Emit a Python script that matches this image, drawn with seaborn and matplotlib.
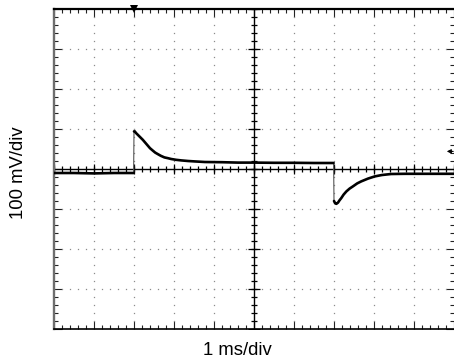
import numpy as np
import pandas as pd
import matplotlib
matplotlib.use("Agg")
import matplotlib.pyplot as plt
from matplotlib.ticker import MultipleLocator
import seaborn as sns

# Scope capture: 1 ms/div horizontally, 100 mV/div vertically
pre_time_ms = [0.0, 0.5, 1.0, 1.5, 1.99]
pre_mv = [-10, -10, -11, -10, -10]

pulse_time_ms = [2.0, 2.02, 2.05, 2.09, 2.15, 2.22, 2.28, 2.34, 2.40, 2.47,
                 2.53, 2.59, 2.67, 2.76, 2.85, 2.93, 3.05, 3.18, 3.35, 3.51,
                 3.77, 4.2, 4.6, 5.0, 5.5, 6.0, 6.5, 6.99]
pulse_mv = [94, 94, 90, 86, 80, 73, 66, 59, 52, 46,
            41, 37.5, 33, 29, 27, 25, 23, 21.5, 20, 19,
            17.5, 17, 16, 16, 15.5, 15.5, 15, 15]

post_time_ms = [7.0, 7.03, 7.06, 7.1, 7.14, 7.18, 7.24, 7.31, 7.39, 7.48,
                7.58, 7.68, 7.85, 8.02, 8.2, 8.43, 8.77, 9.2, 9.6, 10.0]
post_mv = [-80, -86, -87, -84, -78, -73, -64, -56, -49, -43,
           -36, -31, -24, -18.5, -15, -12.5, -12, -12, -12, -12]

trigger_time_ms = 2.0
ground_marker_mv = 44

x_divs = 10
y_divs = 8
ms_per_div = 1.0
mv_per_div = 100

sns.set_theme(style="white")
plt.rcParams["font.family"] = ["Liberation Sans", "DejaVu Sans"]

fig = plt.figure(figsize=(4.54, 3.6), dpi=100)
ax = fig.add_axes([54 / 454, 31 / 360, 400 / 454, 320 / 360])

x_max = x_divs * ms_per_div
y_half = y_divs / 2 * mv_per_div
ax.set_xlim(0, x_max)
ax.set_ylim(-y_half, y_half)

# dotted graticule: dots at every minor step along each major line
minor_x = np.arange(0, x_max + 1e-9, ms_per_div / 5)
minor_y = np.arange(-y_half, y_half + 1e-9, mv_per_div / 5)
major_x = [v for v in np.arange(ms_per_div, x_max, ms_per_div) if abs(v - x_max / 2) > 1e-9]
major_y = [v for v in np.arange(-y_half + mv_per_div, y_half, mv_per_div) if abs(v) > 1e-9]
for gx in major_x:
    ax.plot(np.full_like(minor_y, gx), minor_y, ls="none", marker="s",
            ms=0.9, mew=0, color="#8c8c8c", zorder=1)
for gy in major_y:
    ax.plot(minor_x, np.full_like(minor_x, gy), ls="none", marker="s",
            ms=0.9, mew=0, color="#8c8c8c", zorder=1)

# center cross with its own tick marks
cx = x_max / 2
ax.axhline(0, color="black", lw=1.0, zorder=2)
ax.axvline(cx, color="black", lw=1.0, zorder=2)
ax.plot(minor_x, np.zeros_like(minor_x), ls="none", marker="|", ms=5,
        mew=0.9, color="black", zorder=2)
major_xc = np.arange(0, x_max + 1e-9, ms_per_div)
ax.plot(major_xc, np.zeros_like(major_xc), ls="none", marker="|", ms=6.5,
        mew=0.9, color="black", zorder=2)
ax.plot(np.full_like(minor_y, cx), minor_y, ls="none", marker="_", ms=5,
        mew=0.9, color="black", zorder=2)
major_yc = np.arange(-y_half, y_half + 1e-9, mv_per_div)
ax.plot(np.full_like(major_yc, cx), major_yc, ls="none", marker="_", ms=8.5,
        mew=0.9, color="black", zorder=2)

# edge ticks
ax.xaxis.set_major_locator(MultipleLocator(ms_per_div))
ax.xaxis.set_minor_locator(MultipleLocator(ms_per_div / 5))
ax.yaxis.set_major_locator(MultipleLocator(mv_per_div))
ax.yaxis.set_minor_locator(MultipleLocator(mv_per_div / 5))
ax.tick_params(which="both", direction="in", top=True, right=True, bottom=True,
               left=True, labelbottom=False, labelleft=False, color="#222")
ax.tick_params(which="major", length=6, width=0.8)
ax.tick_params(which="minor", length=3, width=0.8)

for side in ["top", "bottom", "left", "right"]:
    ax.spines[side].set_visible(True)
ax.spines["top"].set_linewidth(1.6)
ax.spines["top"].set_color("black")
ax.spines["bottom"].set_linewidth(1.2)
ax.spines["bottom"].set_color("black")
ax.spines["left"].set_linewidth(1.7)
ax.spines["left"].set_color("#6e6e6e")
ax.spines["right"].set_visible(False)

# trace
segments = [
    pd.DataFrame({"time_ms": pre_time_ms, "mv": pre_mv}),
    pd.DataFrame({"time_ms": pulse_time_ms, "mv": pulse_mv}),
    pd.DataFrame({"time_ms": post_time_ms, "mv": post_mv}),
]
for seg in segments:
    sns.lineplot(data=seg, x="time_ms", y="mv", color="black", lw=1.9,
                 sort=False, estimator=None, ax=ax, zorder=4)
# fast edges render faint
for a, b in zip(segments[:-1], segments[1:]):
    ax.plot([a["time_ms"].iloc[-1], b["time_ms"].iloc[0]],
            [a["mv"].iloc[-1], b["mv"].iloc[0]],
            color="#555555", lw=0.8, zorder=3)

ax.set_xlabel("")
ax.set_ylabel("")

# trigger position and ground reference markers
ax.plot([trigger_time_ms], [y_half], marker="v", ms=6, color="black",
        transform=ax.transData, clip_on=False, zorder=5,
        markeredgewidth=0)
ax.annotate("", xy=(x_max - 0.25, ground_marker_mv),
            xytext=(x_max + 0.05, ground_marker_mv),
            arrowprops=dict(arrowstyle="-|>", color="black", lw=0.8,
                            mutation_scale=6),
            annotation_clip=False)

fig.text(237.5 / 454, 1 - 355 / 360, "1 ms/div", ha="center", va="baseline",
         fontsize=13.3, color="black")
fig.text(19 / 454, 1 - 172.5 / 360, "100 mV/div", ha="center", va="center",
         rotation=90, fontsize=13.3, color="black")

fig.savefig("out.png", dpi=100)
